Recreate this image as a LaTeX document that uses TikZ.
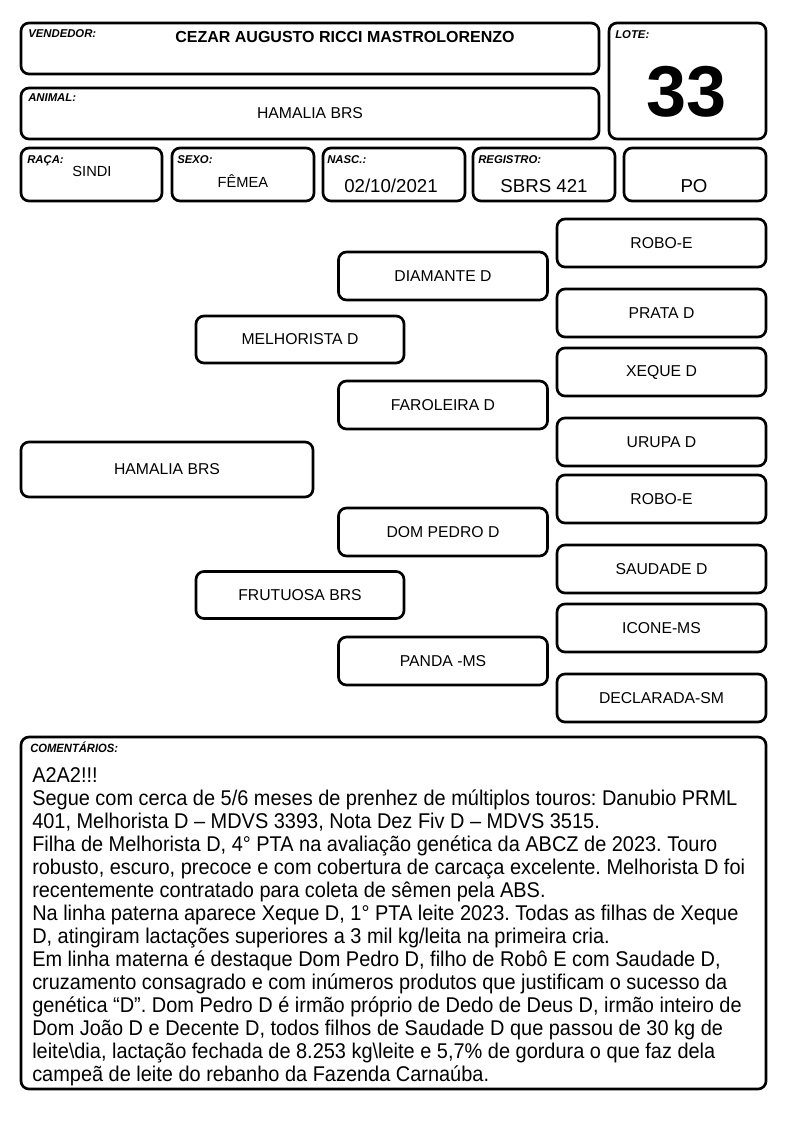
\documentclass[tikz,border=0pt]{standalone}
\usepackage{fontspec}
\setmainfont{Liberation Sans}
\newfontfamily\narrowfont[FakeStretch=0.935]{Liberation Sans}
\frenchspacing

\begin{document}
\begin{tikzpicture}[x=0.75pt,y=-0.75pt,
  box/.style={draw,rounded corners=6pt,line width=2pt,inner sep=0pt},
  wh/.style 2 args={minimum width=#1*0.75pt,minimum height=#2*0.75pt},
  tag/.style={anchor=base west,inner sep=0pt,font=\bfseries\itshape\fontsize{8.5}{9}\selectfont},
  val/.style={anchor=base,inner sep=0pt,font=\fontsize{14}{16}\selectfont},
  small val/.style={anchor=base,inner sep=0pt,font=\fontsize{11}{13}\selectfont},
  ped/.style={box,wh={209}{48},font=\fontsize{11.8}{13}\selectfont}]

  \useasboundingbox (0,0) rectangle (794,1123);

  % header
  \node[box,wh={578}{51}] (vendbox) at (310,48.5) {};
  \node[tag] (vendtag) at (28,38) {VENDEDOR:};
  \node[anchor=base,inner sep=0pt,font=\bfseries\fontsize{12}{14}\selectfont] (vend) at (345,43) {CEZAR AUGUSTO RICCI MASTROLORENZO};

  \node[box,wh={578}{51}] (animbox) at (310,113.5) {};
  \node[tag] (animtag) at (28,102) {ANIMAL:};
  \node[anchor=base,inner sep=0pt,font=\fontsize{11.8}{13}\selectfont] (anim) at (310,119) {HAMALIA BRS};

  \node[box,wh={157}{116}] (lotebox) at (687.5,81) {};
  \node[tag] (lotetag) at (615,39) {LOTE:};
  \node[anchor=base,inner sep=0pt,font=\bfseries\fontsize{54}{60}\selectfont] (lote) at (687,117) {33};

  \node[box,wh={141}{53}] (racabox) at (91.5,174.5) {};
  \node[tag] (racatag) at (27,164) {RAÇA:};
  \node[small val] (raca) at (92,177) {SINDI};

  \node[box,wh={142}{53}] (sexobox) at (243,174.5) {};
  \node[tag] (sexotag) at (177,164) {SEXO:};
  \node[small val] (sexo) at (243,188) {FÊMEA};

  \node[box,wh={142}{53}] (nascbox) at (394,174.5) {};
  \node[tag] (nasctag) at (327,164) {NASC.:};
  \node[val] (nasc) at (391,193) {02/10/2021};

  \node[box,wh={142}{53}] (regbox) at (544,174.5) {};
  \node[tag] (regtag) at (478,164) {REGISTRO:};
  \node[val] (reg) at (544,193) {SBRS 421};

  \node[box,wh={142}{53}] (pobox) at (695,174.5) {};
  \node[val] (po) at (694,193) {PO};

  % pedigree
  \node[ped,wh={292}{55}] (animal) at (167,469.5) {HAMALIA BRS};

  \node[ped,wh={208}{47}] (sire) at (300,339.5) {MELHORISTA D};
  \node[ped,wh={208}{47}] (dam) at (300,595) {FRUTUOSA BRS};

  \node[ped] (ss) at (443,276) {DIAMANTE D};
  \node[ped] (sd) at (443,405) {FAROLEIRA D};
  \node[ped] (ds) at (443,532) {DOM PEDRO D};
  \node[ped] (dd) at (443,661) {PANDA -MS};

  \node[ped] (sss) at (661.5,243) {ROBO-E};
  \node[ped] (ssd) at (661.5,313) {PRATA D};
  \node[ped] (sds) at (661.5,372) {XEQUE D};
  \node[ped] (sdd) at (661.5,442) {URUPA D};
  \node[ped] (dss) at (661.5,499) {ROBO-E};
  \node[ped] (dsd) at (661.5,569) {SAUDADE D};
  \node[ped] (dds) at (661.5,628) {ICONE-MS};
  \node[ped] (ddd) at (661.5,698) {DECLARADA-SM};

  % comments
  \node[box,wh={745}{352}] (combox) at (393.5,913) {};
  \node[tag,font=\narrowfont\bfseries\itshape\fontsize{9}{10}\selectfont] (comtag) at (30,752) {COMENTÁRIOS:};
  \node[anchor=north west,inner sep=0pt,align=left,font=\narrowfont\fontsize{16}{17.25}\selectfont] (com) at (32,767) {%
    A2A2!!!\\
    Segue com cerca de 5/6 meses de prenhez de múltiplos touros: Danubio PRML\\
    401, Melhorista D – MDVS 3393, Nota Dez Fiv D – MDVS 3515.\\
    Filha de Melhorista D, 4° PTA na avaliação genética da ABCZ de 2023. Touro\\
    robusto, escuro, precoce e com cobertura de carcaça excelente. Melhorista D foi\\
    recentemente contratado para coleta de sêmen pela ABS.\\
    Na linha paterna aparece Xeque D, 1° PTA leite 2023. Todas as filhas de Xeque\\
    D, atingiram lactações superiores a 3 mil kg/leita na primeira cria.\\
    Em linha materna é destaque Dom Pedro D, filho de Robô E com Saudade D,\\
    cruzamento consagrado e com inúmeros produtos que justificam o sucesso da\\
    genética “D”. Dom Pedro D é irmão próprio de Dedo de Deus D, irmão inteiro de\\
    Dom João D e Decente D, todos filhos de Saudade D que passou de 30 kg de\\
    leite\textbackslash dia, lactação fechada de 8.253 kg\textbackslash leite e 5,7\% de gordura o que faz dela\\
    campeã de leite do rebanho da Fazenda Carnaúba.};

\end{tikzpicture}
\end{document}
